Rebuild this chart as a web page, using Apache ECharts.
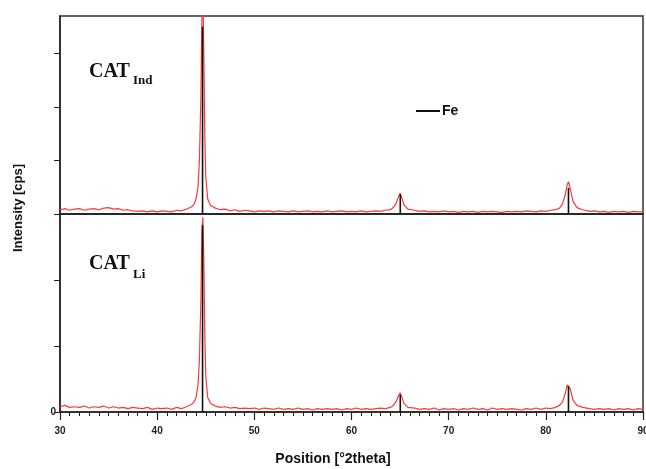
<!DOCTYPE html>
<html>
<head>
<meta charset="utf-8">
<script src="https://cdn.jsdelivr.net/npm/echarts@6/dist/echarts.min.js"></script>
<style>
  html, body { margin: 0; padding: 0; background: #fff; }
  #xrd { width: 646px; height: 469px; }
</style>
</head>
<body>
<div id="xrd"></div>
<script>
  // 2theta positions, shared by both patterns
  var twoTheta = [
    30,30.5,31,31.5,32,32.5,33,33.5,34,34.5,35,35.5,36,36.5,37,37.5,38,38.5,39,39.5,40,40.5,41,41.5,42,42.5,43,
    43.5,43.8,44,44.2,44.35,44.5,44.6,44.7,44.8,44.9,45,45.2,45.5,
    46,46.5,47,47.5,48,48.5,49,49.5,50,50.5,51,51.5,52,52.5,53,53.5,54,54.5,55,55.5,56,56.5,57,57.5,58,58.5,59,59.5,60,60.5,61,61.5,62,62.5,63,63.5,64,
    64.3,64.6,64.85,65,65.15,65.4,65.8,
    66.5,67,67.5,68,68.5,69,69.5,70,70.5,71,71.5,72,72.5,73,73.5,74,74.5,75,75.5,76,76.5,77,77.5,78,78.5,79,79.5,80,80.5,81,
    81.4,81.7,82,82.2,82.35,82.5,82.8,83.2,
    83.8,84.5,85,85.5,86,86.5,87,87.5,88,88.5,89,89.5,90
  ];
  // CAT Ind (top panel)
  var indCps = [
    0.08,0.10,0.07,0.09,0.10,0.07,0.09,0.10,0.08,0.11,0.12,0.09,0.10,0.07,0.08,0.06,0.05,0.06,0.04,0.06,0.04,0.06,0.05,0.04,0.07,0.06,0.09,
    0.13,0.18,0.28,0.5,1.0,2.2,3.6,4.2,3.0,1.5,0.7,0.28,0.16,
    0.11,0.08,0.09,0.06,0.08,0.05,0.07,0.06,0.04,0.06,0.05,0.06,0.04,0.06,0.05,0.04,0.06,0.04,0.05,0.06,0.04,0.05,0.04,0.06,0.04,0.05,0.06,0.04,0.05,0.04,0.06,0.04,0.05,0.06,0.05,0.07,0.08,
    0.12,0.2,0.33,0.39,0.32,0.17,0.09,
    0.07,0.05,0.06,0.04,0.05,0.04,0.06,0.04,0.05,0.03,0.05,0.04,0.05,0.03,0.05,0.04,0.05,0.04,0.03,0.05,0.04,0.05,0.04,0.06,0.05,0.04,0.06,0.05,0.07,0.08,
    0.11,0.18,0.36,0.55,0.6,0.48,0.24,0.12,
    0.08,0.05,0.06,0.04,0.05,0.03,0.05,0.04,0.05,0.03,0.05,0.04,0.04
  ];
  // CAT Li (bottom panel)
  var liCps = [
    0.08,0.10,0.07,0.08,0.07,0.09,0.06,0.08,0.07,0.09,0.06,0.08,0.06,0.07,0.05,0.07,0.06,0.05,0.07,0.04,0.06,0.05,0.06,0.04,0.07,0.05,0.08,
    0.11,0.15,0.22,0.4,0.8,1.7,2.7,2.95,2.3,1.2,0.55,0.22,0.13,
    0.09,0.07,0.08,0.06,0.07,0.05,0.06,0.05,0.06,0.04,0.06,0.05,0.04,0.06,0.04,0.05,0.04,0.06,0.04,0.05,0.03,0.05,0.04,0.05,0.04,0.05,0.03,0.05,0.04,0.06,0.04,0.05,0.04,0.05,0.06,0.05,0.07,
    0.1,0.16,0.25,0.29,0.24,0.13,0.07,
    0.06,0.04,0.05,0.04,0.06,0.03,0.05,0.04,0.05,0.03,0.05,0.04,0.06,0.04,0.05,0.03,0.06,0.04,0.05,0.04,0.05,0.04,0.03,0.05,0.04,0.06,0.04,0.06,0.05,0.07,
    0.1,0.15,0.28,0.41,0.44,0.36,0.18,0.1,
    0.07,0.05,0.04,0.05,0.04,0.05,0.03,0.05,0.04,0.05,0.03,0.05,0.04
  ];
  // Fe reference lines
  var fePos = [44.67, 65.02, 82.33];
  var feInd = [3.5, 0.37, 0.49];
  var feLi = [2.83, 0.26, 0.39];
  var xTicks = [30, 40, 50, 60, 70, 80, 90];

  function pairs(xs, ys) {
    return xs.map(function (x, i) { return [x, ys[i]]; });
  }

  var myChart = echarts.init(document.getElementById('xrd'));
  var axisCol = '#222';
  var sans = 'Liberation Sans, Arial, sans-serif';
  var serif = 'Liberation Serif, Times New Roman, serif';

  var option = {
    animation: false,
    backgroundColor: '#fff',
    grid: [
      { left: 60, right: 3, top: 16, height: 198, show: true, borderColor: '#333', borderWidth: 1.5, backgroundColor: 'transparent', outerBoundsMode: 'none', containLabel: false },
      { left: 60, right: 3, top: 214, height: 198, show: true, borderColor: '#333', borderWidth: 1.5, backgroundColor: 'transparent', outerBoundsMode: 'none', containLabel: false }
    ],
    legend: {
      data: ['Fe'],
      left: 411, top: 99,
      icon: 'rect', itemWidth: 24, itemHeight: 2,
      textStyle: { fontFamily: sans, fontWeight: 'bold', fontSize: 14, color: '#111', padding: [0, 0, 0, -3] }
    },
    xAxis: [
      {
        gridIndex: 0, type: 'value', min: 30, max: 90, interval: 10,
        axisLine: { lineStyle: { color: axisCol, width: 1.5 } },
        axisTick: { show: false }, axisLabel: { show: false }, splitLine: { show: false }
      },
      {
        gridIndex: 1, type: 'value', min: 30, max: 90, interval: 10,
        axisLine: { lineStyle: { color: axisCol, width: 1.5 } },
        axisTick: { show: true, length: 8, lineStyle: { color: axisCol, width: 1.2 }, customValues: xTicks },
        minorTick: { show: true, splitNumber: 10, length: 4, lineStyle: { color: axisCol, width: 1 } },
        axisLabel: { fontFamily: sans, fontWeight: 'bold', fontSize: 10, color: '#222', margin: 14, showMaxLabel: true },
        splitLine: { show: false }
      }
    ],
    yAxis: [
      {
        gridIndex: 0, type: 'value', min: 0, max: 3.7, interval: 1,
        axisLine: { show: true, lineStyle: { color: axisCol, width: 1.5 } },
        axisTick: { show: true, length: 6, lineStyle: { color: axisCol, width: 1 }, customValues: [0, 1, 2, 3] },
        axisLabel: { show: false }, splitLine: { show: false }
      },
      {
        gridIndex: 1, type: 'value', min: 0, max: 3, interval: 1,
        axisLine: { show: true, lineStyle: { color: axisCol, width: 1.5 } },
        axisTick: { show: true, length: 6, lineStyle: { color: axisCol, width: 1 }, customValues: [0, 1, 2] },
        axisLabel: { fontFamily: sans, fontWeight: 'bold', fontSize: 10, color: '#222', margin: 4, customValues: [0] },
        splitLine: { show: false }
      }
    ],
    series: [
      {
        name: 'CAT Ind', type: 'line', xAxisIndex: 0, yAxisIndex: 0,
        data: pairs(twoTheta, indCps), showSymbol: false, clip: true,
        lineStyle: { color: '#ff3838', width: 1.2 }, z: 2
      },
      {
        name: 'CAT Li', type: 'line', xAxisIndex: 1, yAxisIndex: 1,
        data: pairs(twoTheta, liCps), showSymbol: false, clip: true,
        lineStyle: { color: '#ff3838', width: 1.2 }, z: 2
      },
      {
        name: 'Fe', type: 'bar', xAxisIndex: 0, yAxisIndex: 0,
        data: pairs(fePos, feInd), barWidth: 1.6,
        itemStyle: { color: '#111' }, z: 3
      },
      {
        name: 'Fe', type: 'bar', xAxisIndex: 1, yAxisIndex: 1,
        data: pairs(fePos, feLi), barWidth: 1.6,
        itemStyle: { color: '#111' }, z: 3
      }
    ],
    graphic: [
      { type: 'text', left: 89, top: 62, style: { text: 'CAT', font: 'bold 20px ' + serif, fill: '#111' } },
      { type: 'text', left: 133, top: 74, style: { text: 'Ind', font: 'bold 13px ' + serif, fill: '#111' } },
      { type: 'text', left: 89, top: 254, style: { text: 'CAT', font: 'bold 20px ' + serif, fill: '#111' } },
      { type: 'text', left: 133, top: 268, style: { text: 'Li', font: 'bold 13px ' + serif, fill: '#111' } },
      {
        type: 'text', x: 18, y: 208, rotation: Math.PI / 2,
        style: { text: 'Intensity [cps]', font: 'bold 13px ' + sans, fill: '#111', align: 'center', verticalAlign: 'middle' }
      },
      {
        type: 'text', x: 333, y: 459,
        style: { text: 'Position [°2theta]', font: 'bold 14px ' + sans, fill: '#111', align: 'center', verticalAlign: 'middle' }
      }
    ]
  };
  myChart.setOption(option);
</script>
</body>
</html>
